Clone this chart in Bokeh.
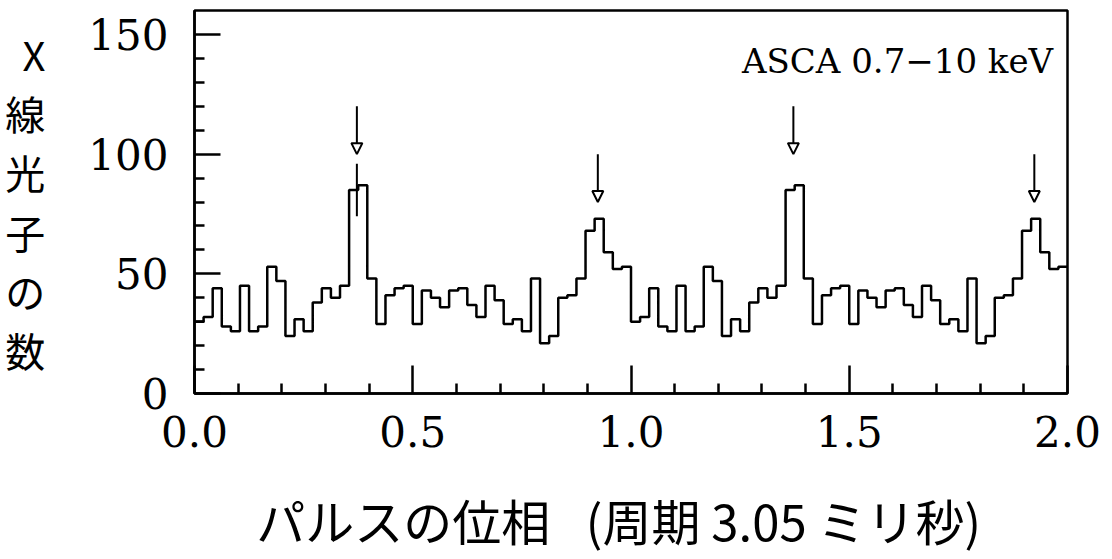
import numpy as np
from bokeh.plotting import figure
from bokeh.models import FixedTicker, Label, Arrow, NormalHead, Range1d, ColumnDataSource, PrintfTickFormatter
from bokeh.core.properties import value
from bokeh.embed import file_html
from bokeh.resources import INLINE

# X-ray photon counts per phase bin, one pulse cycle (48 bins)
counts = [30, 32, 44, 28, 26, 45, 26, 28, 53, 47, 24, 31,
          26, 38, 44, 40, 45, 85, 87, 48, 29, 41, 44, 45,
          29, 43, 40, 36, 43, 44, 37, 32, 45, 39, 29, 31,
          26, 48, 21, 24, 40, 41, 48, 68, 73, 59, 52, 53]
n_cycles = 2  # the profile is shown twice (phase 0 - 2)

# arrows marking the pulse peaks
arrow_phase = [0.372, 0.924, 1.372, 1.924]
arrow_top = [120, 100, 120, 100]
arrow_tip = [100, 80, 100, 80]

x_ticks = [0.0, 0.5, 1.0, 1.5, 2.0]
x_minor = [0.1, 0.2, 0.3, 0.4, 0.6, 0.7, 0.8, 0.9, 1.1, 1.2, 1.3, 1.4, 1.6, 1.7, 1.8, 1.9]
y_ticks = [0, 50, 100, 150]
y_minor = [10, 20, 30, 40, 60, 70, 80, 90, 110, 120, 130, 140]

annotation = "ASCA 0.7\u221210 keV"
y_label_chars = ["X", "線", "光", "子", "の", "数"]
x_label = "パルスの位相\u2002 (周期 3.05 ミリ秒)\u2002"

nb = len(counts)
vals = counts * n_cycles
edges = [i / nb for i in range(nb * n_cycles + 1)]
step_y = vals + [vals[-1]]

p = figure(width=1112, height=559, output_backend="svg", toolbar_location=None,
           x_range=Range1d(0, 2), y_range=Range1d(0, 160),
           min_border_left=194, min_border_right=45, min_border_top=10, min_border_bottom=166)
p.frame_width = 873
p.frame_height = 383
p.background_fill_color = "white"
p.border_fill_color = "white"
p.outline_line_color = "black"
p.outline_line_width = 2.5
p.grid.visible = False

p.step(edges, step_y, mode="after", line_color="black", line_width=2.5)

for ax in (p.xaxis[0], p.yaxis[0]):
    ax.axis_line_width = 2.5
    ax.major_tick_line_width = 2.5
    ax.minor_tick_line_width = 2.5
    ax.major_tick_out = 0
    ax.minor_tick_out = 0
    ax.minor_tick_in = 10
    ax.major_label_text_font = "DejaVu Serif"
    ax.major_label_text_font_size = "42px"
    ax.major_label_text_color = "black"
    ax.axis_label_text_color = "black"
    ax.axis_label_text_font = "Noto Sans CJK JP"
    ax.axis_label_text_font_style = "normal"

p.xaxis.ticker = FixedTicker(ticks=x_ticks, minor_ticks=x_minor)
p.yaxis.ticker = FixedTicker(ticks=y_ticks, minor_ticks=y_minor)
p.xaxis.formatter = PrintfTickFormatter(format="%.1f")
p.xaxis.major_tick_in = 28
p.yaxis.major_tick_in = 26
p.xaxis.major_label_standoff = 22
p.yaxis.major_label_standoff = 26

p.xaxis.axis_label = x_label
p.xaxis.axis_label_text_font_size = "49px"
p.xaxis.axis_label_standoff = 34

# vertical y-axis label, one character per line
p.yaxis.axis_label = "\n".join(y_label_chars)
p.yaxis.axis_label_orientation = "horizontal"
p.yaxis.axis_label_text_font_size = "40px"
p.yaxis.axis_label_text_line_height = 1.024
p.yaxis.axis_label_standoff = 40

# arrows
src = ColumnDataSource(dict(x0=arrow_phase, y0=arrow_top, x1=arrow_phase, y1=arrow_tip))
p.add_layout(Arrow(source=src, x_start="x0", y_start="y0", x_end="x1", y_end="y1",
                   line_width=2, line_color="black",
                   end=NormalHead(size=11, fill_color="white", line_color="black", line_width=2)))
p.segment(x0=[arrow_phase[0]], y0=[96], x1=[arrow_phase[0]], y1=[74], line_width=2, line_color="black")

p.add_layout(Label(x=1.967, y=139, text=annotation, text_align="right", text_baseline="alphabetic",
                   text_font="DejaVu Serif", text_font_size="34px", text_color="black"))

open("out.html", "w").write(file_html(p, INLINE))
